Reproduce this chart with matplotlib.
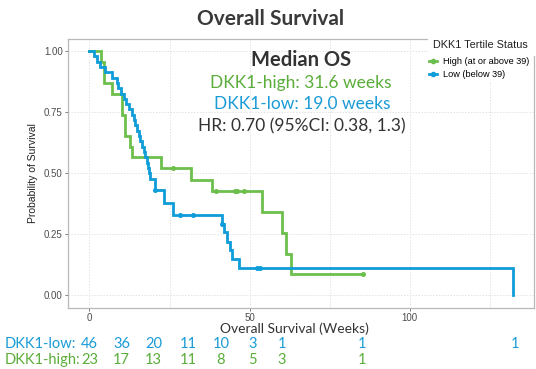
import matplotlib
matplotlib.use("Agg")
import matplotlib.pyplot as plt
import matplotlib.transforms as mtransforms
from matplotlib.lines import Line2D

# ---------------- data ----------------
high_t = [0, 3.6, 4.5, 6.9, 10.1, 11.1, 12.7, 13.2, 22.3, 31.7, 38.3, 54.0, 60.1, 61.3, 63.0, 85.3]
high_s = [1.0, 0.957, 0.870, 0.826, 0.739, 0.652, 0.609, 0.565, 0.522, 0.474, 0.427, 0.341, 0.256, 0.171, 0.087, 0.087]
high_cens_t = [26.0, 39.4, 45.5, 46.2, 48.4, 85.3]
high_cens_s = [0.522, 0.427, 0.427, 0.427, 0.427, 0.087]

low_t = [0, 1.5, 2.3, 3.3, 4.8, 7.0, 8.6, 9.0, 10.0, 10.8, 11.4, 12.2, 13.4, 13.8, 14.2,
         14.9, 15.4, 15.9, 16.4, 17.0, 17.4, 17.9, 18.2, 18.6, 18.9, 20.5, 23.4, 26.1,
         41.3, 42.0, 42.9, 43.9, 44.4, 46.7, 132.1]
low_s = [1.0, 0.978, 0.957, 0.935, 0.913, 0.891, 0.870, 0.848, 0.826, 0.804, 0.783, 0.761, 0.739, 0.717, 0.696,
         0.674, 0.652, 0.630, 0.609, 0.587, 0.565, 0.543, 0.522, 0.500, 0.478, 0.433, 0.380, 0.329,
         0.292, 0.258, 0.220, 0.186, 0.149, 0.111, 0.0]
low_cens_t = [20.5, 28.3, 32.4, 41.3, 52.3, 53.3]
low_cens_s = [0.433, 0.329, 0.329, 0.292, 0.111, 0.111]

risk_times = [0, 10, 20, 31, 41, 51, 60, 85, 133]
risk_low = [46, 36, 20, 11, 10, 3, 1, 1, 1]
risk_high = [23, 17, 13, 11, 8, 5, 3, 1, None]

x_ticks = [0, 50, 100]
y_ticks = [0.0, 0.25, 0.50, 0.75, 1.00]
y_ticklabels = ["0.00", "0.25", "0.50", "0.75", "1.00"]
legend_labels = ["High (at or above 39)", "Low (below 39)"]

GREEN = "#6cbf4c"
BLUE = "#0f9dd9"
GREEN_TXT = "#5aad3a"
BLUE_TXT = "#1a9bd7"
DARK = "#333333"

W, H = 536, 369
fig = plt.figure(figsize=(W / 100, H / 100), dpi=100)
fig.patch.set_facecolor("white")

def fx(px):
    return px / W

def fy(py):
    return 1 - py / H

ax = fig.add_axes([fx(68.3), fy(307.7), fx(533.7) - fx(68.3), fy(38.8) - fy(307.7)])
ax.set_xlim(-6.6, 138.7)
ax.set_ylim(-0.05, 1.05)

# grid
for gx in [0, 25, 50, 75, 100, 125]:
    ax.axvline(gx, color="#e3e3e3", lw=0.7, ls=(0, (1.5, 1.5)), zorder=0)
for gy in y_ticks:
    ax.axhline(gy, color="#e3e3e3", lw=0.7, ls=(0, (1.5, 1.5)), zorder=0)

ax.step(high_t, high_s, where="post", color=GREEN, lw=2.0, zorder=3, solid_joinstyle="miter")
ax.step(low_t, low_s, where="post", color=BLUE, lw=2.0, zorder=4, solid_joinstyle="miter")
ax.plot(high_cens_t, high_cens_s, ls="none", marker="o", ms=2.6, color=GREEN, zorder=5)
ax.plot(low_cens_t, low_cens_s, ls="none", marker="o", ms=2.6, color=BLUE, zorder=5)

ax.set_xticks(x_ticks)
ax.set_xticklabels([str(v) for v in x_ticks], fontsize=7, color="#4d4d4d", family="Liberation Sans")
ax.set_yticks(y_ticks)
ax.set_yticklabels(y_ticklabels, fontsize=7, color="#4d4d4d", family="Liberation Sans")
ax.tick_params(axis="both", length=2, width=0.6, color="#666666", pad=2)
for sp in ax.spines.values():
    sp.set_color("#b8b8b8")
    sp.set_linewidth(0.9)

ax.set_ylabel("Probability of Survival", fontsize=7.5, family="Liberation Sans", color="#222222", labelpad=4)

# legend (white box over the top-right corner)
handles = [Line2D([0], [0], color=GREEN, lw=2, marker="o", ms=3),
           Line2D([0], [0], color=BLUE, lw=2, marker="o", ms=3)]
leg = fig.legend(handles, legend_labels, loc="upper left",
                 bbox_to_anchor=(fx(427), fy(55)), frameon=True, fancybox=False,
                 facecolor="white", edgecolor="white", framealpha=1,
                 prop={"family": "Liberation Sans", "size": 6.6},
                 handlelength=0.9, handletextpad=0.6, labelspacing=0.45,
                 borderpad=0.2, borderaxespad=0)
leg.set_zorder(10)
fig.patches.append(plt.Rectangle((fx(428), fy(56)), fx(536) - fx(428), fy(36) - fy(56),
                                 transform=fig.transFigure, facecolor="white", edgecolor="none", zorder=9))
fig.text(fx(433), fy(45), "DKK1 Tertile Status", ha="left", va="center",
         fontsize=7.8, family="Liberation Sans", color="#222222", zorder=11)

# titles / annotations
fig.text(fx(271), fy(19), "Overall Survival", ha="center", va="center",
         fontsize=15, fontweight="bold", family="Lato", color="#3a3a3a")
fig.text(fx(301), fy(60), "Median OS", ha="center", va="center",
         fontsize=14.5, fontweight="bold", family="Lato", color="#333333")
fig.text(fx(301), fy(83), "DKK1-high: 31.6 weeks", ha="center", va="center",
         fontsize=12.5, family="Lato", color=GREEN_TXT)
fig.text(fx(302), fy(104), "DKK1-low: 19.0 weeks", ha="center", va="center",
         fontsize=12.5, family="Lato", color=BLUE_TXT)
fig.text(fx(302), fy(126), "HR: 0.70 (95%CI: 0.38, 1.3)", ha="center", va="center",
         fontsize=12.5, family="Lato", color=DARK)

fig.text(fx(294), fy(329), "Overall Survival (Weeks)", ha="center", va="center",
         fontsize=10, family="Lato", color="#333333")

# risk table
trans = mtransforms.blended_transform_factory(ax.transData, fig.transFigure)
fig.text(fx(5), fy(344), "DKK1-low:", ha="left", va="center", fontsize=10.5, family="Lato", color=BLUE_TXT)
fig.text(fx(5), fy(360), "DKK1-high:", ha="left", va="center", fontsize=10.5, family="Lato", color=GREEN_TXT)
for t, lo, hi in zip(risk_times, risk_low, risk_high):
    if lo is not None:
        ax.text(t, fy(344), str(lo), transform=trans, ha="center", va="center",
                fontsize=10.5, family="Lato", color=BLUE_TXT, clip_on=False)
    if hi is not None:
        ax.text(t, fy(360), str(hi), transform=trans, ha="center", va="center",
                fontsize=10.5, family="Lato", color=GREEN_TXT, clip_on=False)

fig.savefig("out.png", dpi=100, facecolor="white")
